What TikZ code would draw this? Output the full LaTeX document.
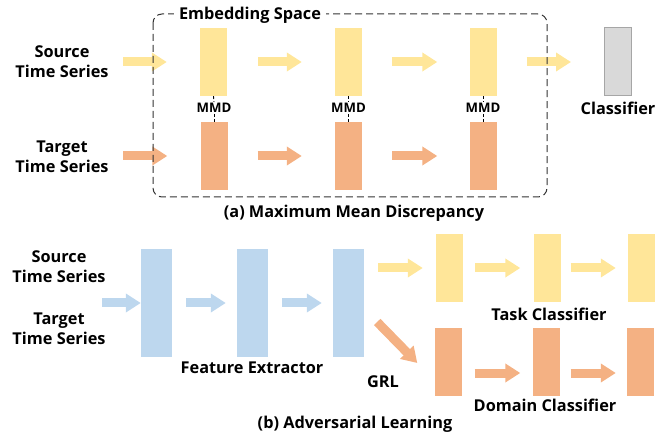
\documentclass[tikz,border=0pt]{standalone}
\usepackage{fontspec}
\setmainfont{Open Sans}
\usetikzlibrary{arrows.meta,positioning,calc}

\definecolor{srcyellow}{HTML}{FFE699}
\definecolor{tgtorange}{HTML}{F4B183}
\definecolor{featblue}{HTML}{BDD7EE}
\definecolor{clsgray}{HTML}{D9D9D9}
\definecolor{clsborder}{HTML}{A6A6A6}

\tikzset{
  lbl/.style={font=\bfseries\fontsize{16.3}{20}\selectfont, align=center, inner sep=0pt},
  small/.style={font=\bfseries\fontsize{13.2}{14}\selectfont, inner sep=1pt},
  block/.style={minimum width=27pt, minimum height=68pt, inner sep=0pt, draw=none},
  yblock/.style={block, fill=srcyellow},
  oblock/.style={block, fill=tgtorange},
  bblock/.style={minimum width=31pt, minimum height=108pt, inner sep=0pt, draw=none, fill=featblue},
  gblock/.style={block, fill=clsgray, draw=clsborder, line width=1pt},
  fat/.style={line width=9pt, -{Triangle[length=15pt,width=18pt]}},
  yarrow/.style={fat, draw=srcyellow},
  oarrow/.style={fat, draw=tgtorange},
  barrow/.style={fat, draw=featblue},
  mmdline/.style={line width=0.9pt, dash pattern=on 3pt off 2pt},
}

\begin{document}
\begin{tikzpicture}[x=1pt,y=-1pt]
\useasboundingbox (0,0) rectangle (672,438);

% ---------- (a) MMD ----------
\node[lbl] (srcA) at (62,62) {Source\\Time Series};
\node[lbl] (tgtA) at (62,157) {Target\\Time Series};

\node[yblock] (ya1) at (213.5,62) {};
\node[yblock] (ya2) at (348.5,62) {};
\node[yblock] (ya3) at (483,62) {};
\node[gblock] (cls) at (618,62) {};
\node[oblock] (oa1) at (214,156) {};
\node[oblock] (oa2) at (348.5,156) {};
\node[oblock] (oa3) at (483,156) {};

\node[small] (m1) at (214,108) {MMD};
\node[small] (m2) at (348.5,108) {MMD};
\node[small] (m3) at (483,108) {MMD};
\node[lbl] (clsl) at (618,108) {Classifier};

\foreach \i in {1,2,3}{
  \draw[mmdline] (ya\i.south) -- (m\i.north);
  \draw[mmdline] (m\i.south) -- (oa\i.north);
}

\coordinate (sa0) at (123,62);
\coordinate (ta0) at (123,156);
\draw[yarrow] (sa0) -- ($(ya1.west)+(-33,0)$);
\draw[yarrow] ($(ya1.east)+(31,0)$) -- ($(ya2.west)+(-33,0)$);
\draw[yarrow] ($(ya2.east)+(30,0)$) -- ($(ya3.west)+(-32,0)$);
\draw[yarrow] ($(ya3.east)+(30,0)$) -- ($(cls.west)+(-33,0)$);
\draw[oarrow] (ta0) -- ($(oa1.west)+(-33,0)$);
\draw[oarrow] ($(oa1.east)+(30,0)$) -- ($(oa2.west)+(-33,0)$);
\draw[oarrow] ($(oa2.east)+(30,0)$) -- ($(oa3.west)+(-32,0)$);

% embedding space frame, drawn over the arrows that cross it
\draw[line width=1pt, draw=black!80, dash pattern=on 7pt off 4pt, rounded corners=9pt]
  (153,14) rectangle (547,197);
\node[lbl, fill=white, inner xsep=5pt, inner ysep=1pt] (emb) at (250,15) {Embedding Space};

\node[lbl] (capA) at (354,213) {(a) Maximum Mean Discrepancy};

% ---------- (b) Adversarial ----------
\node[lbl] (srcB) at (59,267) {Source\\Time Series};
\node[lbl] (tgtB) at (59,329) {Target\\Time Series};

\node[bblock] (b1) at (156.5,303) {};
\node[bblock] (b2) at (252.5,303) {};
\node[bblock] (b3) at (348.5,303) {};
\node[lbl] (fe) at (252,368) {Feature Extractor};

\node[yblock] (yb1) at (449.5,268) {};
\node[yblock] (yb2) at (547,268) {};
\node[yblock] (yb3) at (641.5,268) {};
\node[lbl] (tc) at (549,314) {Task Classifier};

\node[oblock] (ob1) at (448,362) {};
\node[oblock] (ob2) at (546,362) {};
\node[oblock] (ob3) at (640.5,362) {};
\node[lbl] (dc) at (545,405) {Domain Classifier};
\node[lbl] (grl) at (383,382) {GRL};

\coordinate (bb0) at (102,303);
\draw[barrow] (bb0) -- (b1.west);
\draw[barrow] ($(b1.east)+(14,0)$) -- ($(b2.west)+(-11,0)$);
\draw[barrow] ($(b2.east)+(14,0)$) -- ($(b3.west)+(-11,0)$);

\draw[yarrow] ($(b3.east)+(14,-35)$) -- ($(yb1.west)+(-13,0)$);
\draw[yarrow] ($(yb1.east)+(12,0)$) -- ($(yb2.west)+(-13,0)$);
\draw[yarrow] ($(yb2.east)+(10,0)$) -- ($(yb3.west)+(-12,0)$);

\draw[oarrow] ($(b3.east)+(13,19)$) -- ($(ob1.west)+(-17,1)$);
\draw[oarrow] ($(ob1.east)+(13,11)$) -- ($(ob2.west)+(-12,11)$);
\draw[oarrow] ($(ob2.east)+(11,11)$) -- ($(ob3.west)+(-11,11)$);

\node[lbl] (capB) at (355,424) {(b) Adversarial Learning};
\end{tikzpicture}
\end{document}
